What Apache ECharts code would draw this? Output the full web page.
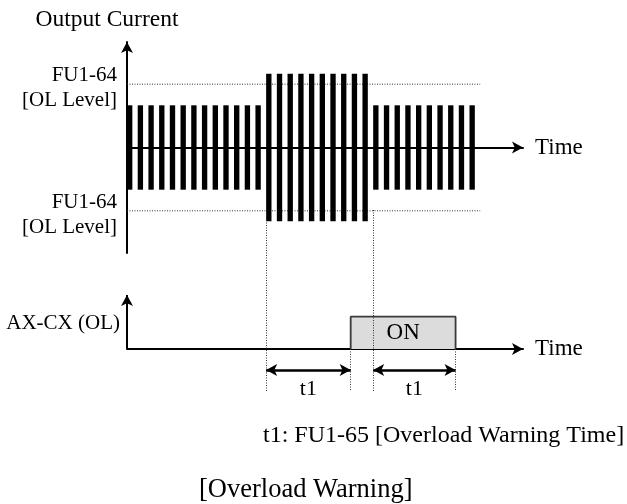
<!DOCTYPE html>
<html>
<head>
<meta charset="utf-8">
<script src="https://cdn.jsdelivr.net/npm/echarts@6/dist/echarts.min.js"></script>
<style>
html, body { margin: 0; padding: 0; background: #fff; }
#chart { width: 627px; height: 504px; }
</style>
</head>
<body>
<div id="chart"></div>
<script>
// output current pulses, one per period; amplitude relative to normal load
var pulseTimes = [0, 1, 2, 3, 4, 5, 6, 7, 8, 9, 10, 11, 12,
	13, 14, 15, 16, 17, 18, 19, 20, 21, 22,
	23, 24, 25, 26, 27, 28, 29, 30, 31, 32];
var pulseAmps = [1, 1, 1, 1, 1, 1, 1, 1, 1, 1, 1, 1, 1,
	1.75, 1.75, 1.75, 1.75, 1.75, 1.75, 1.75, 1.75, 1.75, 1.75,
	1, 1, 1, 1, 1, 1, 1, 1, 1, 1];
var pulseWidth = 0.5;

// FU1-64 overload level (+/-) and how far the dotted guide runs
var olLevels = [1.5, -1.5];
var olSpan = [0, 33];

// overload begins / ends
var overloadTimes = [13, 23];

// AX-CX (OL) output signal
var signalTimes = [20.9, 20.9, 30.7, 30.7];
var signalLevels = [0, 1, 1, 0];

// t1 spans (FU1-65 warning time)
var t1Spans = [[13, 20.9], [23, 30.7]];

var FONT = "'Liberation Serif', 'Times New Roman', serif";

var chart = echarts.init(document.getElementById('chart'));

var dotStyle = { color: '#333', width: 1, type: [1, 1.5] };

var markLines = [];
// guides from overload start / end through both panels
overloadTimes.forEach(function(t) {
	markLines.push({ xAxis: t, lineStyle: dotStyle });
});
// guides below the ON box
[signalTimes[0], signalTimes[3]].forEach(function(t) {
	markLines.push([
		{ coord: [t, 0], lineStyle: dotStyle },
		{ coord: [t, -1.3] }
	]);
});
// bottom y axis with arrow
markLines.push([
	{ coord: [0, 0], symbol: 'none', lineStyle: { color: '#000', width: 2, type: 'solid' } },
	{ coord: [0, 1.67], symbol: 'arrow' }
]);
// t1 double arrows
t1Spans.forEach(function(s) {
	markLines.push([
		{ coord: [s[0], -0.65], symbol: 'arrow', lineStyle: { color: '#000', width: 2.5, type: 'solid' },
		  label: { show: true, formatter: 't1', position: 'insideMiddleBottom', distance: 8,
		           color: '#000', fontFamily: FONT, fontSize: 22 } },
		{ coord: [s[1], -0.65], symbol: 'arrow' }
	]);
});

var option = {
	animation: false,
	title: [{
		text: 't1: FU1-65 [Overload Warning Time]',
		left: 263, top: 423, padding: 0,
		textStyle: { fontFamily: FONT, fontSize: 24, fontWeight: 'normal', color: '#000', lineHeight: 25 }
	}, {
		text: '[Overload Warning]',
		left: 199, top: 477, padding: 0,
		textStyle: { fontFamily: FONT, fontSize: 26.5, fontWeight: 'normal', color: '#000', lineHeight: 27 }
	}],
	grid: [
		{ left: 127, top: 42, width: 396, height: 211 },
		{ left: 127, top: 210, width: 396, height: 181 }
	],
	xAxis: [{
		gridIndex: 0, type: 'value', min: 0, max: 37,
		axisLine: { onZero: true, symbol: ['none', 'arrow'], symbolSize: [9, 11], lineStyle: { color: '#000', width: 2 } },
		axisTick: { show: false }, axisLabel: { show: false }, splitLine: { show: false },
		name: 'Time', nameLocation: 'end', nameGap: 12,
		nameTextStyle: { fontFamily: FONT, fontSize: 23, color: '#000', padding: [0, 0, 3, 0] }
	}, {
		gridIndex: 1, type: 'value', min: 0, max: 37,
		axisLine: { onZero: true, symbol: ['none', 'arrow'], symbolSize: [9, 11], lineStyle: { color: '#000', width: 2 } },
		axisTick: { show: false }, axisLabel: { show: false }, splitLine: { show: false },
		name: 'Time', nameLocation: 'end', nameGap: 12,
		nameTextStyle: { fontFamily: FONT, fontSize: 23, color: '#000', padding: [0, 0, 3, 0] }
	}],
	yAxis: [{
		gridIndex: 0, type: 'value', min: -2.5, max: 2.5,
		axisLine: { show: true, onZero: true, symbol: ['none', 'arrow'], symbolSize: [9, 11], lineStyle: { color: '#000', width: 2 } },
		axisTick: { show: false }, splitLine: { show: false },
		axisLabel: {
			show: true, customValues: olLevels, margin: 10,
			formatter: function() { return '{a|FU1-64}\n{b|[OL Level]}'; },
			fontFamily: FONT, fontSize: 21, color: '#000', align: 'right',
			rich: {
				a: { fontFamily: FONT, fontSize: 21, color: '#000', lineHeight: 24, padding: [7, 0, 0, 0] },
				b: { fontFamily: FONT, fontSize: 21, color: '#000', lineHeight: 24, padding: [9, 0, 0, 0] }
			}
		},
		name: 'Output Current', nameLocation: 'end', nameGap: 10,
		nameTextStyle: { fontFamily: FONT, fontSize: 23.5, color: '#000', padding: [0, 40, 0, 0] }
	}, {
		gridIndex: 1, type: 'value', min: -1.3, max: 4.3,
		axisLine: { show: false }, axisTick: { show: false }, splitLine: { show: false },
		axisLabel: {
			show: true, customValues: [0.8], margin: 7,
			formatter: function() { return 'AX-CX (OL)'; },
			fontFamily: FONT, fontSize: 21, color: '#000'
		}
	}],
	series: [{
		name: 'Output Current',
		type: 'custom',
		xAxisIndex: 0, yAxisIndex: 0,
		data: pulseTimes.map(function(t, i) { return [t, pulseAmps[i]]; }),
		renderItem: function(params, api) {
			var t = api.value(0), a = api.value(1);
			var p0 = api.coord([t, a]);
			var p1 = api.coord([t + pulseWidth, -a]);
			return {
				type: 'rect',
				shape: { x: p0[0], y: p0[1], width: p1[0] - p0[0], height: p1[1] - p0[1] },
				style: { fill: '#000' }
			};
		}
	}].concat(olLevels.map(function(lv) {
		return {
			name: 'OL Level',
			type: 'line',
			xAxisIndex: 0, yAxisIndex: 0,
			data: [[olSpan[0], lv], [olSpan[1], lv]],
			symbol: 'none',
			lineStyle: dotStyle,
			z: 1
		};
	})).concat([{
		name: 'AX-CX (OL)',
		type: 'line',
		xAxisIndex: 1, yAxisIndex: 1,
		data: signalTimes.map(function(t, i) { return [t, signalLevels[i]]; }),
		symbol: 'none',
		lineStyle: { color: '#3a3a3a', width: 1.8 },
		areaStyle: { color: '#dcdcdc', opacity: 1 },
		markArea: {
			silent: true,
			z: 5,
			itemStyle: { color: 'rgba(0,0,0,0)' },
			label: { show: true, position: 'inside', color: '#000', fontFamily: FONT, fontSize: 23 },
			data: [[{ name: 'ON', coord: [signalTimes[1], signalLevels[1]] }, { coord: [signalTimes[3], signalLevels[3]] }]]
		},
		markLine: {
			silent: true,
			symbol: 'none',
			symbolSize: [9, 11],
			label: { show: false },
			lineStyle: dotStyle,
			data: markLines
		}
	}])
};

chart.setOption(option);
</script>
</body>
</html>
